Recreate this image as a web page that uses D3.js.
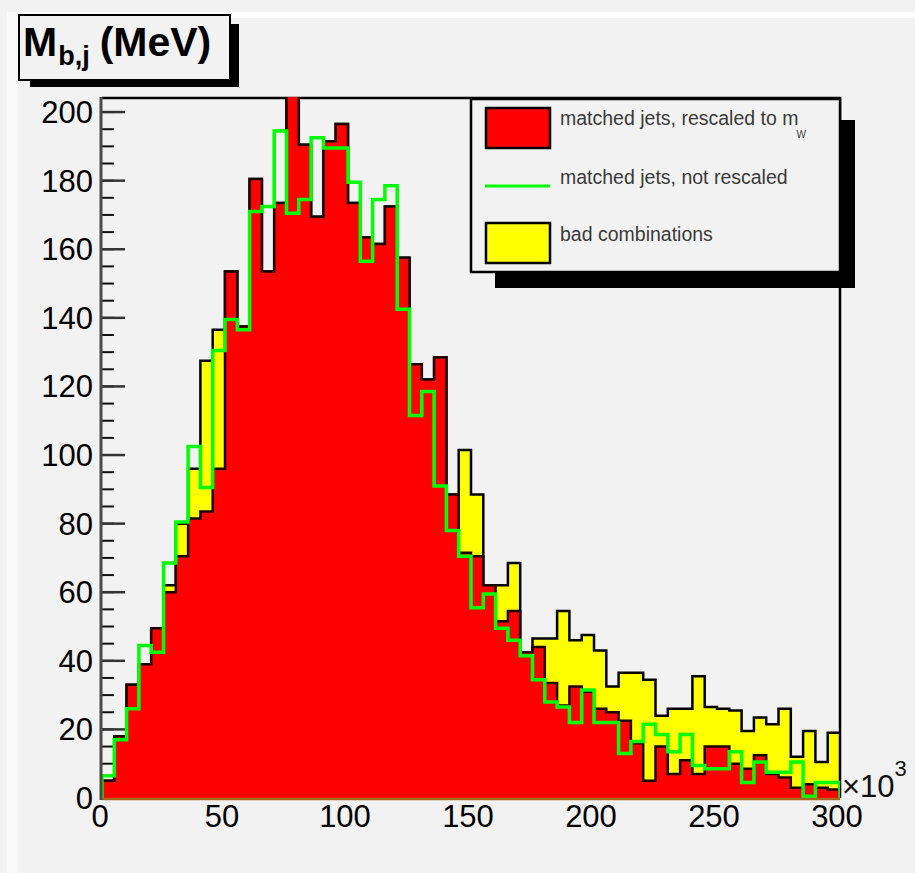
<!DOCTYPE html>
<meta charset="utf-8">
<head>
    <title>M_bj (MeV)</title>
    <script src="https://cdn.jsdelivr.net/npm/d3@7"></script>
    <style>
        html, body {
            margin: 0;
            padding: 0;
            background-color: #f2f2f2;
        }
        svg {
            display: block;
            font-family: "Liberation Sans", Arial, sans-serif;
        }
    </style>
</head>
<body>
    <div id="chart"></div>

    <script>
        // bins of 5 (x10^3 MeV) from 0 to 300
        var binEdges = d3.range(0, 305, 5);

        // matched jets, rescaled to m_W (red, bottom of the stack)
        var rescaled = [5, 18, 33, 39, 49.5, 60, 70.5, 81.5, 83.5, 96,
            153.5, 137.5, 180.5, 153.5, 173.5, 206, 190.5, 169.5, 191.5, 196.5,
            173.5, 163.5, 161.5, 172.5, 157.5, 126.5, 122, 128.5, 88.5, 71.5,
            70.5, 62, 51.5, 54.5, 42.5, 44, 33.5, 27, 32.5, 31,
            26, 25, 22.5, 16, 5, 15, 7, 11, 7, 15,
            15, 10, 8.5, 12.5, 7, 6, 3, 4, 3, 2.5];

        // bad combinations (yellow, stacked on top of the red)
        var badComb = [0, 0, 0, 0, 0, 2, 9.5, 14.5, 44, 40.5,
            0, 0, 0, 0, 0, 0, 0, 0, 0, 0,
            0, 0, 0, 0, 0, 0, 0, 0, 0, 30,
            18, 0, 10.5, 14, 0, 2.5, 13, 27.5, 13.5, 16.5,
            17, 7.5, 14, 20.5, 29.5, 9, 19, 15, 28.5, 11.5,
            11, 15.5, 11, 11, 14.5, 20, 9, 15.5, 7.5, 16.5];

        // matched jets, not rescaled (green line)
        var notRescaled = [6.5, 17, 26, 44.5, 42.5, 68.5, 80.5, 102.5, 90.5, 130.5,
            139.5, 136.5, 171, 172.5, 194.5, 170.5, 174.5, 192.5, 189.5, 189.5,
            179.5, 156.5, 174.5, 178.5, 142.5, 111.5, 118.5, 91, 78, 70.5,
            55.5, 59.5, 49.5, 46, 41.5, 34.5, 28, 26.5, 22, 31.5,
            22, 22, 13, 16.5, 21.5, 18.5, 13.5, 18.5, 9.5, 8.5,
            8.5, 13.5, 4.5, 10.5, 7.5, 7.5, 10.5, 0.5, 4.5, 4.5];

        var yTicks = [0, 20, 40, 60, 80, 100, 120, 140, 160, 180, 200];
        var yMinorTicks = d3.range(0, 205, 5);
        var xTicks = [0, 50, 100, 150, 200, 250, 300];
        var xMinorTicks = d3.range(0, 305, 10);

        var legendLabels = ["matched jets, rescaled to m", "matched jets, not rescaled", "bad combinations"];

        var W = 915, H = 873;
        var frame = {left: 102, right: 840, top: 98, bottom: 798};

        var svg = d3.select("#chart").append("svg")
            .attr("width", W)
            .attr("height", H);

        // canvas bevel
        svg.append("rect").attr("x", 0).attr("y", 0).attr("width", W).attr("height", H).attr("fill", "#f2f2f2");
        svg.append("rect").attr("x", 7).attr("y", 12).attr("width", W - 7).attr("height", 6).attr("fill", "#ffffff");
        svg.append("rect").attr("x", 7).attr("y", 12).attr("width", 11).attr("height", H - 12).attr("fill", "#f9f9f9");

        var x = d3.scaleLinear().domain([0, 300]).range([frame.left, frame.right]);
        var y = d3.scaleLinear().domain([0, 204.1]).range([frame.bottom, frame.top]);

        svg.append("clipPath").attr("id", "clip")
            .append("rect")
            .attr("x", frame.left).attr("y", frame.top - 1)
            .attr("width", frame.right - frame.left)
            .attr("height", frame.bottom - frame.top + 1);

        // frame
        svg.append("path")
            .attr("d", "M" + frame.left + "," + frame.top + "H" + frame.right + "V" + frame.bottom)
            .attr("fill", "none").attr("stroke", "#000").attr("stroke-width", 2.5);

        // y ticks (inside the frame)
        svg.append("g").selectAll("line.minor")
            .data(yMinorTicks)
            .enter().append("line")
            .attr("x1", frame.left).attr("x2", frame.left + 12)
            .attr("y1", function(d) { return y(d); })
            .attr("y2", function(d) { return y(d); })
            .attr("stroke", "#111").attr("stroke-width", 2);
        svg.append("g").selectAll("line.major")
            .data(yTicks)
            .enter().append("line")
            .attr("x1", frame.left).attr("x2", frame.left + 23)
            .attr("y1", function(d) { return y(d); })
            .attr("y2", function(d) { return y(d); })
            .attr("stroke", "#333").attr("stroke-width", 2.5);

        // x ticks (hidden under the histograms, as in the original)
        svg.append("g").selectAll("line")
            .data(xMinorTicks)
            .enter().append("line")
            .attr("x1", function(d) { return x(d); })
            .attr("x2", function(d) { return x(d); })
            .attr("y1", frame.bottom)
            .attr("y2", function(d) { return frame.bottom - (d % 50 == 0 ? 21 : 11); })
            .attr("stroke", "#000").attr("stroke-width", 2);

        // stack the two filled histograms
        var rows = rescaled.map(function(v, i) {
            return {bin: binEdges[i], rescaled: v, bad: badComb[i]};
        });
        var stack = d3.stack().keys(["rescaled", "bad"]);
        var layers = stack(rows);

        function stepPoints(values) {
            var pts = values.map(function(v, i) { return [binEdges[i], v]; });
            pts.push([binEdges[values.length], values[values.length - 1]]);
            return pts;
        }

        var area = d3.area()
            .curve(d3.curveStepAfter)
            .x(function(d) { return x(d[0]); })
            .y0(y(0))
            .y1(function(d) { return y(d[1]); });

        var line = d3.line()
            .curve(d3.curveStepAfter)
            .x(function(d) { return x(d[0]); })
            .y(function(d) { return y(d[1]); });

        function outline(values) {
            var pts = stepPoints(values);
            return [[binEdges[0], 0]].concat(pts).concat([[binEdges[values.length], 0]]);
        }

        var hist = svg.append("g").attr("clip-path", "url(#clip)");

        // total (sum of stack) drawn first, yellow
        var total = layers[1].map(function(d) { return d[1]; });
        hist.append("path")
            .attr("d", area(stepPoints(total)))
            .attr("fill", "#ffff00");
        hist.append("path")
            .attr("d", line(outline(total)))
            .attr("fill", "none").attr("stroke", "#000").attr("stroke-width", 2.5);

        // red on top
        var bottom = layers[0].map(function(d) { return d[1]; });
        hist.append("path")
            .attr("d", area(stepPoints(bottom)))
            .attr("fill", "#ff0000");
        hist.append("path")
            .attr("d", line(outline(bottom)))
            .attr("fill", "none").attr("stroke", "#1a0000").attr("stroke-width", 2.5);

        // green line
        hist.append("path")
            .attr("d", line(outline(notRescaled)))
            .attr("fill", "none").attr("stroke", "#00ff00").attr("stroke-width", 3.5);

        // x axis line and y axis line
        svg.append("line")
            .attr("x1", frame.left).attr("x2", frame.right)
            .attr("y1", frame.bottom + 1).attr("y2", frame.bottom + 1)
            .attr("stroke", "#a8681e").attr("stroke-width", 2.5);
        svg.append("line")
            .attr("x1", frame.left - 1).attr("x2", frame.left - 1)
            .attr("y1", frame.top - 1).attr("y2", frame.bottom + 2)
            .attr("stroke", "#4a4a4a").attr("stroke-width", 3);

        // y labels
        svg.append("g").selectAll("text")
            .data(yTicks)
            .enter().append("text")
            .attr("x", 93)
            .attr("y", function(d) { return y(d) + 11; })
            .attr("text-anchor", "end")
            .attr("font-size", 31)
            .attr("fill", "#000")
            .text(function(d) { return d; });

        // x labels
        svg.append("g").selectAll("text")
            .data(xTicks)
            .enter().append("text")
            .attr("x", function(d) { return x(d) - (d == 0 ? 2 : 3); })
            .attr("y", 827)
            .attr("text-anchor", "middle")
            .attr("font-size", 31)
            .attr("fill", "#000")
            .text(function(d) { return d; });

        // x10^3
        var mult = svg.append("text")
            .attr("x", 842).attr("y", 797)
            .attr("font-size", 31)
            .attr("fill", "#111");
        mult.append("tspan").text("\u00d710");
        mult.append("tspan").attr("font-size", 22).attr("dy", -21).text("3");

        // title box
        svg.append("rect").attr("x", 30).attr("y", 24).attr("width", 209).attr("height", 63).attr("fill", "#000");
        svg.append("rect").attr("x", 19).attr("y", 15).attr("width", 211).attr("height", 65)
            .attr("fill", "#f2f2f2").attr("stroke", "#000").attr("stroke-width", 2);
        var title = svg.append("text")
            .attr("x", 23).attr("y", 56)
            .attr("font-size", 41)
            .attr("font-weight", "bold")
            .attr("fill", "#000");
        title.append("tspan").text("M");
        title.append("tspan").attr("font-size", 27).attr("dy", 9).attr("dx", 1).text("b,j");
        title.append("tspan").attr("dy", -9).attr("dx", 10).text("(MeV)");

        // legend
        var legend = svg.append("g");
        legend.append("rect").attr("x", 495).attr("y", 120).attr("width", 360).attr("height", 168).attr("fill", "#000");
        legend.append("rect").attr("x", 471).attr("y", 99).attr("width", 369).attr("height", 173)
            .attr("fill", "#f2f2f2").attr("stroke", "#000").attr("stroke-width", 2.5);

        var entryY = [127, 186, 243];
        legend.append("rect").attr("x", 486).attr("y", 108).attr("width", 64).attr("height", 40)
            .attr("fill", "#ff0000").attr("stroke", "#000").attr("stroke-width", 2.5);
        legend.append("line").attr("x1", 485).attr("x2", 550).attr("y1", entryY[1]).attr("y2", entryY[1])
            .attr("stroke", "#00ff00").attr("stroke-width", 3);
        legend.append("rect").attr("x", 486).attr("y", 223).attr("width", 64).attr("height", 40)
            .attr("fill", "#ffff00").attr("stroke", "#000").attr("stroke-width", 2.5);

        var labels = legend.selectAll("text.lbl")
            .data(legendLabels)
            .enter().append("text")
            .attr("x", 560)
            .attr("y", function(d, i) { return entryY[i] - 2; })
            .attr("font-size", 19.5)
            .attr("fill", "#3a3a3a")
            .text(function(d) { return d; });
        var firstLen = labels.nodes()[0].getComputedTextLength();
        legend.append("text")
            .attr("x", 560 + firstLen - 2).attr("y", 138)
            .attr("font-size", 10)
            .attr("fill", "#3a3a3a")
            .text("W");
    </script>
</body>
</html>
